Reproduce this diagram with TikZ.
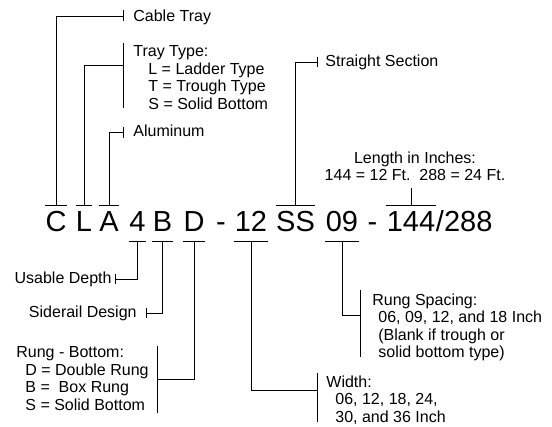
\documentclass[tikz,border=0pt]{standalone}
\usepackage{fontspec}
\setmainfont{Liberation Sans}
\usetikzlibrary{positioning}
\tikzset{
  code/.style={inner sep=0pt,font=\fontsize{29}{29}\selectfont,text height=26pt,text depth=9pt},
  lbl/.style={inner sep=0pt,font=\fontsize{16}{17.5}\selectfont,align=left},
}
\begin{document}
\begin{tikzpicture}[x=1pt,y=-1pt,line width=0.8pt]
  \useasboundingbox (0,0) rectangle (552,427);

  \node[code,anchor=base] (nC) at (56,232) {C};
  \node[code,anchor=base] (nL) at (84,232) {L};
  \node[code,anchor=base] (nA) at (109,232) {A};
  \node[code,anchor=base] (n4) at (137.5,232) {4};
  \node[code,anchor=base] (nB) at (162.5,232) {B};
  \node[code,anchor=base] (nD) at (194,232) {D};
  \node[code,anchor=base] (dashA) at (221,232) {-};
  \node[code,anchor=base] (n12) at (251,232) {12};
  \node[code,anchor=base] (nSS) at (295.5,232) {SS};
  \node[code,anchor=base] (n09) at (342,232) {09};
  \node[code,anchor=base] (dashB) at (372.5,232) {-};
  \node[code,anchor=base] (n144) at (411,232) {144};
  \node[code,right=0pt of n144] (n288) {/288};
  \foreach \n in {nC,nL,nA,nSS,n144} \draw (\n.north west) -- (\n.north east);
  \foreach \n in {n4,nB,nD,n12,n09} \draw (\n.south west) -- (\n.south east);

  \coordinate (kCable) at (123,16);
  \coordinate (kType) at (123,65);
  \coordinate (kAlu) at (123,132);
  \coordinate (kStraight) at (317,62);
  \coordinate (kLen) at (411,188);
  \coordinate (kDepth) at (115,279);
  \coordinate (kSide) at (146,313);
  \coordinate (kRung) at (157,379);
  \coordinate (kWidth) at (317,390);
  \coordinate (kSpacing) at (360,315);

  \node[lbl,anchor=base west] (cable) at (133,21.5) {Cable Tray};
  \node[lbl,anchor=north west] (type) at (133,45.5) {Tray Type:\\\hspace*{15pt}L = Ladder Type\\\hspace*{15pt}T = Trough Type\\\hspace*{15pt}S = Solid Bottom};
  \node[lbl,anchor=base west] (alu) at (133,137) {Aluminum};
  \node[lbl,anchor=base west] (straight) at (325,67) {Straight Section};
  \node[lbl,align=center,anchor=north] (len) at (415,151.5) {Length in Inches:\\144 = 12 Ft.\ \ 288 = 24 Ft.};
  \node[lbl,anchor=base east] (depth) at (112,284) {Usable Depth};
  \node[lbl,anchor=base east] (side) at (137,318) {Siderail Design};
  \node[lbl,anchor=north west] (rung) at (16,346.5) {Rung - Bottom:\\\hspace*{9pt}D = Double Rung\\\hspace*{9pt}B = \ Box Rung\\\hspace*{9pt}S = Solid Bottom};
  \node[lbl,anchor=north west] (width) at (326,375.5) {Width:\\\hspace*{9pt}06, 12, 18, 24,\\\hspace*{9pt}30, and 36 Inch};
  \node[lbl,anchor=north west] (spacing) at (372,293.5) {Rung Spacing:\\\hspace*{6pt}06, 09, 12, and 18 Inch\\\hspace*{6pt}(Blank if trough or\\\hspace*{6pt}solid bottom type)};

  \draw (123,10) -- (123,21);
  \draw (123,43) -- (123,108);
  \draw (123,127) -- (123,138);
  \draw (317,57) -- (317,67);
  \draw (115,274) -- (115,284);
  \draw (146,308) -- (146,318);
  \draw (157,346) -- (157,413);
  \draw (317,373) -- (317,422);
  \draw (360,290) -- (360,357);

  \draw (nC.north) |- (kCable);
  \draw (nL.north) |- (kType);
  \draw (nA.north) |- (kAlu);
  \draw (nSS.north) |- (kStraight);
  \draw (n144.north) -- (kLen);
  \draw (n4.south) |- (kDepth);
  \draw (nB.south) |- (kSide);
  \draw (nD.south) |- (kRung);
  \draw (n12.south) |- (kWidth);
  \draw (n09.south) |- (kSpacing);
\end{tikzpicture}
\end{document}
